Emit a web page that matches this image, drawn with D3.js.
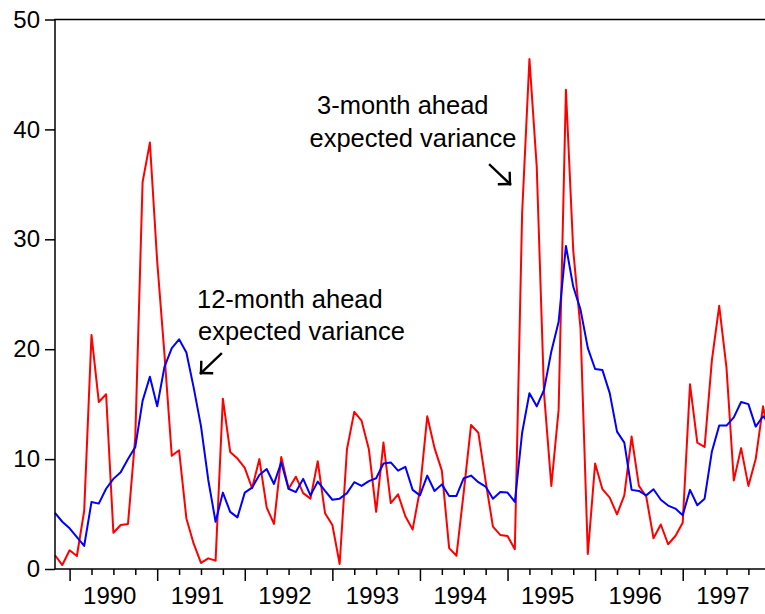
<!DOCTYPE html>
<html>
<head>
<meta charset="utf-8">
<script src="https://cdn.jsdelivr.net/npm/d3@7"></script>
<style>
  body { margin: 0; background: #fff; }
  svg { display: block; font-family: Arial, "Liberation Sans", sans-serif; }
</style>
</head>
<body>
<script>
"use strict";

// monthly observations, first one is 1989M11
var firstYear = 1989, firstMonth = 11;
var yearLabels = ["1990", "1991", "1992", "1993", "1994", "1995", "1996", "1997"];
var yTicks = [0, 10, 20, 30, 40, 50];

// 3-month ahead expected variance (red)
var threeMonth = [
  1.25, 0.36, 1.7, 1.18, 5.3, 21.3, 15.2, 15.9, 3.3, 4.0,
  4.1, 12.0, 35.2, 38.8, 28.0, 19.5, 10.3, 10.8, 4.6, 2.3,
  0.55, 0.97, 0.76, 15.5, 10.65, 10.05, 9.2, 7.35, 10.0, 5.6,
  4.1, 10.2, 7.3, 8.4, 6.9, 6.4, 9.8, 5.07, 4.0, 0.46,
  10.9, 14.3, 13.5, 10.9, 5.2, 11.5, 6.0, 6.8, 4.8, 3.6,
  7.2, 13.9, 11.0, 8.95, 1.9, 1.2, 7.0, 13.1, 12.4, 8.0,
  3.85, 3.1, 3.0, 1.8, 32.4, 46.4, 36.6, 16.0, 7.55, 14.5,
  43.6, 29.0, 21.9, 1.37, 9.6, 7.26, 6.5, 4.97, 6.7, 12.05,
  7.56, 6.6, 2.8, 4.05, 2.25, 3.0, 4.2, 16.8, 11.5, 11.1,
  19.0, 23.95, 18.3, 8.05, 11.0, 7.56, 10.0, 14.8, 11.5
];

// 12-month ahead expected variance (blue)
var twelveMonth = [
  5.1, 4.3, 3.7, 2.9, 2.1, 6.1, 5.95, 7.3, 8.2, 8.8,
  10.0, 11.1, 15.3, 17.5, 14.8, 18.4, 20.1, 20.9, 19.7, 16.5,
  13.0, 8.1, 4.3, 6.95, 5.2, 4.7, 6.95, 7.4, 8.56, 9.1,
  7.74, 9.7, 7.3, 7.0, 8.2, 6.7, 7.95, 7.1, 6.3, 6.4,
  6.9, 7.9, 7.56, 8.0, 8.26, 9.6, 9.7, 8.95, 9.3, 7.2,
  6.7, 8.5, 7.1, 7.7, 6.65, 6.65, 8.26, 8.5, 7.9, 7.5,
  6.4, 7.0, 6.95, 6.1, 12.4, 16.0, 14.8, 16.3, 19.8, 22.5,
  29.4, 25.7, 23.6, 20.1, 18.2, 18.1, 16.0, 12.5, 11.5, 7.2,
  7.1, 6.7, 7.26, 6.3, 5.77, 5.5, 4.9, 7.2, 5.8, 6.4,
  10.7, 13.05, 13.05, 13.8, 15.2, 15.0, 12.96, 13.9, 13.2
];

var width = 765, height = 614;
var plotLeft = 55, plotTop = 19.5, plotBottom = 569;

var svg = d3.select("body").append("svg")
    .attr("width", width)
    .attr("height", height);

// index 0 .. 97 = 1989M11 .. 1997M12 fills the frame
var x = d3.scaleLinear().domain([0, 97]).range([plotLeft, 763]);
var y = d3.scaleLinear().domain([0, 50]).range([plotBottom, plotTop]);

function monthOf(i) { return (firstMonth - 1 + i) % 12; }

var quarterIdx = d3.range(0, threeMonth.length).filter(function(i){ return monthOf(i) % 3 === 0; });

// x axis, quarters short, january long
var xAxis = svg.append("g")
    .attr("transform", "translate(0," + plotBottom + ")")
    .call(d3.axisBottom(x).tickValues(quarterIdx).tickSize(6).tickFormat(""));
xAxis.select(".domain").remove();
xAxis.selectAll(".tick line")
    .attr("stroke", "#000")
    .attr("stroke-width", 1.5)
    .attr("y2", function(d){ return monthOf(d) === 0 ? 12 : 6; });

svg.append("g").selectAll("text")
    .data(yearLabels)
    .enter().append("text")
      .attr("x", function(d){ return x((+d - firstYear) * 12 - (firstMonth - 1) + 5.5); })
      .attr("y", 604)
      .attr("text-anchor", "middle")
      .style("font-size", "24px")
      .text(function(d){ return d; });

var yAxis = svg.append("g")
    .attr("transform", "translate(" + plotLeft + ",0)")
    .call(d3.axisLeft(y).tickValues(yTicks).tickSize(10).tickPadding(5));
yAxis.select(".domain").remove();
yAxis.selectAll(".tick line").attr("stroke", "#000").attr("stroke-width", 1.5);
yAxis.selectAll(".tick text")
    .style("font-size", "24px")
    .style("font-family", "Arial, 'Liberation Sans', sans-serif")
    .attr("fill", "#000");

var line = d3.line()
    .x(function(d, i){ return x(i); })
    .y(function(d){ return y(d); });

svg.append("path")
    .datum(threeMonth)
    .attr("fill", "none")
    .attr("stroke", "#ff0000")
    .attr("stroke-width", 2)
    .attr("stroke-linejoin", "round")
    .attr("d", line);

svg.append("path")
    .datum(twelveMonth)
    .attr("fill", "none")
    .attr("stroke", "#0000ff")
    .attr("stroke-width", 2)
    .attr("stroke-linejoin", "round")
    .attr("d", line);

// frame: left, top, bottom
svg.append("path")
    .attr("d", "M" + (width + 2) + "," + plotTop + "H" + plotLeft + "V" + plotBottom + "H" + (width + 2))
    .attr("fill", "none")
    .attr("stroke", "#000")
    .attr("stroke-width", 1.5);

// annotations
var notes = svg.append("g").style("font-size", "25.5px").attr("fill", "#000");
notes.append("text").attr("x", 197).attr("y", 307.5).text("12-month ahead");
notes.append("text").attr("x", 198).attr("y", 340).text("expected variance");
notes.append("text").attr("x", 317).attr("y", 113.5).text("3-month ahead");
notes.append("text").attr("x", 309.5).attr("y", 146.5).text("expected variance");

function arrow(x1, y1, x2, y2) {
  var ang = Math.atan2(y2 - y1, x2 - x1), len = 11, g = svg.append("g")
      .attr("stroke", "#000").attr("stroke-width", 2.4).attr("fill", "none")
      .attr("stroke-linecap", "square");
  g.append("line").attr("x1", x1).attr("y1", y1).attr("x2", x2).attr("y2", y2);
  [-Math.PI / 4, Math.PI / 4].forEach(function(a){
    g.append("line")
      .attr("x1", x2).attr("y1", y2)
      .attr("x2", x2 - len * Math.cos(ang + a))
      .attr("y2", y2 - len * Math.sin(ang + a));
  });
}
arrow(221, 354, 201, 373);
arrow(490, 165, 510, 184);
</script>
</body>
</html>
